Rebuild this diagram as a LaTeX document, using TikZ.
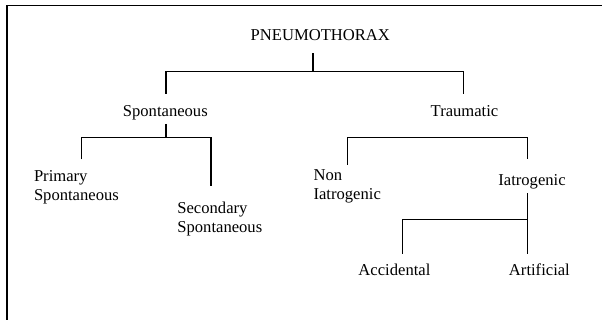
\documentclass[tikz,border=0pt]{standalone}
\usepackage{fontspec}
\setmainfont{Liberation Serif}
\usetikzlibrary{positioning}

\tikzset{lbl/.style={inner sep=0, anchor=base west, align=left, font=\fontsize{8.3}{9.3}\selectfont}}

\begin{document}
\begin{tikzpicture}[x=0.5pt, y=-0.5pt, line width=0.7pt]
  \useasboundingbox (0,0) rectangle (602,320);

%frame
  \draw (602,5.8) -- (7,5.8) -- (7,320);

%root
  \node[lbl] (pneumo) at (250,40.8) {PNEUMOTHORAX};

%level 1
	\def\dy{117};
    \foreach \x/\txt/\name in { 122.2/Spontaneous/spont, 430/Traumatic/trauma} {
         \node[lbl] (\name) at (\x,\dy) {\txt};
    }

%level 2 (base is the last line)
    \foreach \x/\y/\txt/\name in { 33.3/200.1/{Primary\\Spontaneous}/prim, 176.7/232.6/{Secondary\\Spontaneous}/sec, 312.9/199.1/{Non\\Iatrogenic}/noniat, 497.7/186/Iatrogenic/iat} {
         \node[lbl] (\name) at (\x,\y) {\txt};
    }

%level 3
	\def\dy{275.7};
    \foreach \x/\txt/\name in { 357.8/Accidental/acc, 508.3/Artificial/art} {
         \node[lbl] (\name) at (\x,\dy) {\txt};
    }

%connector ends
    \coordinate (pneumo-s) at (313,53.3);
    \coordinate (pneumo-bar) at (313,71.7);
    \coordinate (spont-n) at (166,94);
    \coordinate (trauma-n) at (463.3,94);
    \coordinate (spont-s) at (166,124);
    \coordinate (spont-bar) at (166,137.3);
    \coordinate (prim-n) at (81.7,159.3);
    \coordinate (sec-n) at (211,186);
    \coordinate (trauma-bar) at (527.3,137.3);
    \coordinate (noniat-n) at (347.3,165);
    \coordinate (iat-n) at (527.3,159.3);
    \coordinate (iat-s) at (527.3,193.3);
    \coordinate (iat-bar) at (527.3,219.3);
    \coordinate (acc-n) at (402.3,254);
    \coordinate (art-n) at (527.3,254);

%lines
    \draw (pneumo-s) -- (pneumo-bar);
    \draw (spont-n) |- (pneumo-bar) -| (trauma-n);
    \draw (spont-s) -- (spont-bar);
    \draw (prim-n) |- (spont-bar) -| (sec-n);
    \draw (noniat-n) |- (trauma-bar) -- (iat-n);
    \draw (iat-s) -- (art-n);
    \draw (acc-n) |- (iat-bar);

\end{tikzpicture}
\end{document}
